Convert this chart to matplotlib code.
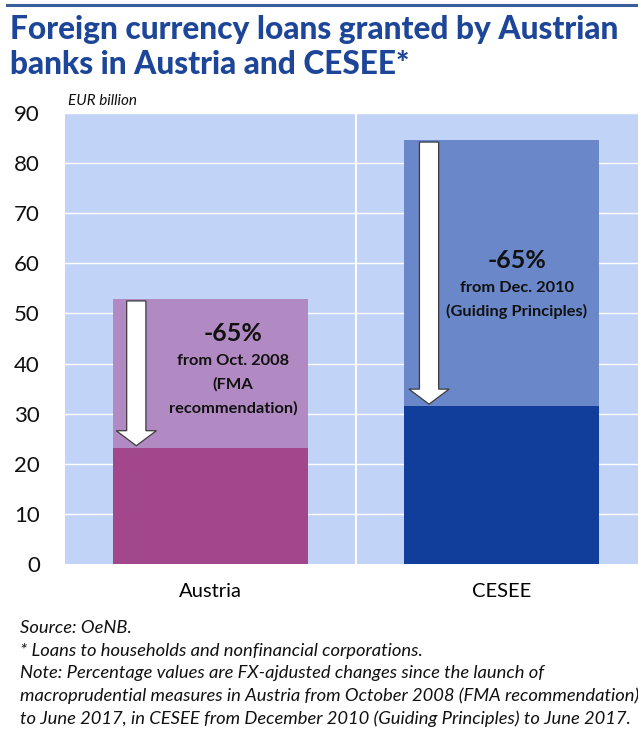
import matplotlib
matplotlib.use("Agg")
import matplotlib.pyplot as plt
from matplotlib.patches import FancyArrow
from matplotlib.lines import Line2D

categories = ["Austria", "CESEE"]
initial_values = [52.9, 84.6]
current_values = [23.2, 31.5]
change_labels = ["-65%", "-65%"]
change_notes = [["from Oct. 2008", "(FMA", "recommendation)"],
                ["from Dec. 2010", "(Guiding Principles)"]]
yticks = [0, 10, 20, 30, 40, 50, 60, 70, 80, 90]

light_colors = ["#B28AC3", "#6987C9"]
dark_colors = ["#A2478B", "#113D9B"]
bg = "#C1D4F8"
title_color = "#1D4699"

FONT = "Lato"
plt.rcParams["font.family"] = [FONT, "DejaVu Sans"]

fig = plt.figure(figsize=(6.38, 7.31), dpi=100)
W, H = 638, 731

def fx(px):
    return px / W

def fy(py):
    return 1 - py / H

# top rule
fig.add_artist(Line2D([fx(7), 1], [fy(5), fy(5)], color="#3A5E9C", lw=2.2))

fig.text(fx(10), fy(39), "Foreign currency loans granted by Austrian",
         fontsize=22.8, fontweight=900, color=title_color, va="baseline")
fig.text(fx(10), fy(74), "banks in Austria and CESEE*",
         fontsize=22.8, fontweight=900, color=title_color, va="baseline")

ax = fig.add_axes([fx(65), fy(564), fx(638) - fx(65), fy(113) - fy(564)])
ax.set_facecolor(bg)
x = list(range(len(categories)))
ax.set_xlim(-0.5, 1.469)
ax.set_ylim(0, 90)
ax.set_yticks(yticks)
for t in yticks[1:]:
    ax.axhline(t, color="white", lw=1.0, zorder=1)
ax.axvline(0.5, color="white", lw=1.5, zorder=1)

bw = 0.67
ax.bar(x, initial_values, width=bw, color=light_colors, zorder=2)
ax.bar(x, current_values, width=bw, color=dark_colors, zorder=3)

# arrows (offset from bar centre)
arrow_dx = [-0.255, -0.249]
for i in range(len(categories)):
    top = initial_values[i] - 0.4
    tip = current_values[i] + 0.4
    arr = FancyArrow(x[i] + arrow_dx[i], top, 0, tip - top, width=0.066,
                     head_width=0.138, head_length=3.0,
                     length_includes_head=True, facecolor="white",
                     edgecolor="#3C3C3C", lw=0.9, zorder=5)
    ax.add_patch(arr)

# annotations (offset from bar centre)
text_dx = [0.077, 0.053]
text_y0 = [45.9, 60.5]
for i in range(len(categories)):
    ax.text(x[i] + text_dx[i], text_y0[i], change_labels[i], ha="center",
            va="center", fontsize=18, fontweight="bold", color="#111111",
            zorder=6)
    yy = text_y0[i] - 5.4
    for line in change_notes[i]:
        ax.text(x[i] + text_dx[i], yy, line, ha="center", va="center",
                fontsize=11.8, fontweight="bold", color="#111111", zorder=6)
        yy -= 4.7

for s in ax.spines.values():
    s.set_visible(False)
ax.tick_params(axis="both", length=0)
ax.tick_params(axis="y", labelsize=16, pad=18)
ax.set_xticks(x)
ax.set_xticklabels(categories, fontsize=14.5)
ax.tick_params(axis="x", pad=14)
for lbl in ax.get_yticklabels():
    lbl.set_color("#111111")

fig.text(fx(68), fy(101), "EUR billion", fontsize=11, style="italic",
         color="#111111", va="center")

notes = ["Source: OeNB.",
         "* Loans to households and nonfinancial corporations.",
         "Note: Percentage values are FX-ajdusted changes since the launch of",
         "macroprudential measures in Austria from October 2008 (FMA recommendation)",
         "to June 2017, in CESEE from December 2010 (Guiding Principles) to June 2017."]
ny = 628
for n in notes:
    fig.text(fx(20), fy(ny), n, fontsize=13.2, style="italic", color="#111111",
             va="center")
    ny += 22.7

fig.savefig("out.png", dpi=100)
